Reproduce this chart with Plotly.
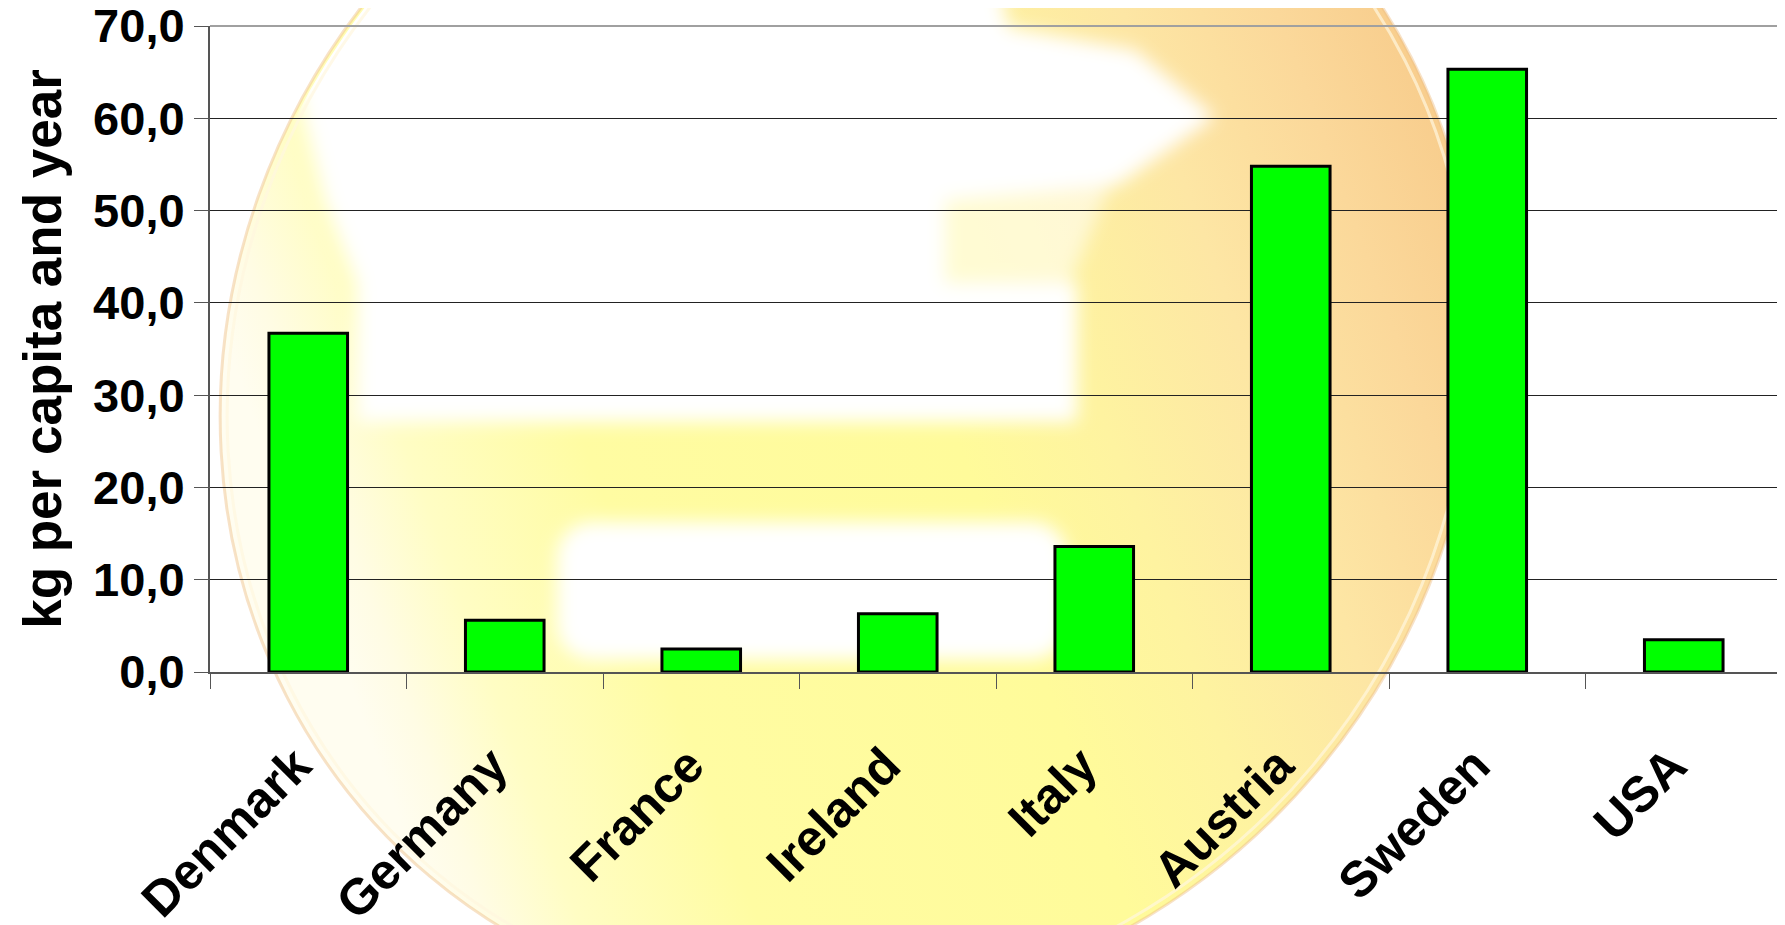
import base64
import plotly.graph_objects as go

countries = ["Denmark", "Germany", "France", "Ireland", "Italy", "Austria", "Sweden", "USA"]
values = [36.7, 5.6, 2.5, 6.3, 13.6, 54.8, 65.3, 3.5]
y_title = "kg per capita and year"

W, H = 1785, 925
OFF = 8  # default page body margin
L, R, T, B = 210 - OFF, 3 + OFF, 26 - OFF, 253 + OFF
pw, ph = W - L - R, H - T - B

svg = f'''<svg xmlns="http://www.w3.org/2000/svg" width="{W}" height="{H}" viewBox="0 0 {W} {H}">
<defs>
<linearGradient id="g" x1="303" y1="175" x2="1351" y2="780" gradientUnits="userSpaceOnUse">
<stop offset="0" stop-color="#FFFDF0"/>
<stop offset="0.04" stop-color="#FFFCE4"/>
<stop offset="0.11" stop-color="#FFFDC4"/>
<stop offset="0.25" stop-color="#FFFCA2"/>
<stop offset="0.54" stop-color="#FFFB9A"/>
<stop offset="0.66" stop-color="#FEF3A0"/>
<stop offset="0.79" stop-color="#FDE6A4"/>
<stop offset="0.91" stop-color="#FBD89A"/>
<stop offset="1" stop-color="#F8CE8E"/>
</linearGradient>
<filter id="b" x="-20%" y="-20%" width="140%" height="140%"><feGaussianBlur stdDeviation="9"/></filter>
<clipPath id="c"><ellipse cx="849" cy="377" rx="649" ry="609" transform="rotate(-50 849 377)"/></clipPath>
</defs>
<g transform="translate({-OFF},{-OFF})">
<ellipse cx="849" cy="377" rx="652" ry="612" transform="rotate(-50 849 377)" fill="url(#g)"/>
<g clip-path="url(#c)">
<g filter="url(#b)" fill="#FFFFFF">
<polygon points="300,-60 990,-60 1008,27 1135,50 1215,117 1118,185 945,200 945,283 1077,283 1077,422 357,422 357,283 325,200 300,100"/>
<polygon points="940,195 1110,185 1070,283 940,283" opacity="0.55"/>
<rect x="557" y="522" width="510" height="138" rx="35"/>
</g>
</g>
<ellipse cx="849" cy="377" rx="652" ry="612" transform="rotate(-50 849 377)" fill="none" stroke="#EDBF86" stroke-width="3" opacity="0.45"/>
<ellipse cx="849" cy="377" rx="645" ry="605" transform="rotate(-50 849 377)" fill="none" stroke="#FFF6DE" stroke-width="3" opacity="0.7"/>
</g>
</svg>'''
src = "data:image/svg+xml;base64," + base64.b64encode(svg.encode()).decode()

font = "Arial, 'Liberation Sans', sans-serif"

fig = go.Figure(go.Bar(
    x=countries, y=values,
    marker=dict(color="#00FF00", line=dict(color="#000000", width=3)),
    width=0.4,
))

fig.update_layout(
    width=W, height=H,
    margin=dict(l=L, r=R, t=T, b=B, autoexpand=False),
    paper_bgcolor="#FFFFFF", plot_bgcolor="rgba(0,0,0,0)",
    separators=",.",
    showlegend=False,
    font=dict(family=font, color="#000000"),
    images=[dict(source=src, xref="paper", yref="paper",
                 x=-L / pw, y=1 + T / ph, sizex=W / pw, sizey=H / ph,
                 xanchor="left", yanchor="top", sizing="stretch", layer="below")],
    shapes=[
        dict(type="line", xref="paper", yref="paper", x0=0, x1=1, y0=1, y1=1,
             line=dict(color="#A0A0A0", width=2)),
        dict(type="line", xref="paper", yref="paper", x0=1, x1=1, y0=0, y1=1,
             line=dict(color="#A0A0A0", width=2)),
    ],
)
fig.update_xaxes(
    automargin=False,
    showline=True, linecolor="#555555", linewidth=2,
    ticks="outside", tickson="boundaries", ticklen=15, tickcolor="#555555", tickwidth=1,
    tickangle=-45, tickfont=dict(size=50, family=font, weight="bold"),
    ticklabelstandoff=42, ticklabelshift=-12, ticklabeloverflow="allow", showgrid=False,
)
fig.update_yaxes(
    automargin=False,
    range=[0, 70], dtick=10, tickformat=".1f",
    showline=True, linecolor="#555555", linewidth=2,
    ticks="outside", ticklen=14, tickcolor="#555555", tickwidth=1,
    showgrid=True, gridcolor="#222222", gridwidth=1,
    ticklabeloverflow="allow",
    tickfont=dict(size=47, family=font, weight="bold"),
    title=dict(text=y_title, font=dict(size=53, family=font, weight="bold"), standoff=15),
    zeroline=False,
)
fig.write_html("out.html")
